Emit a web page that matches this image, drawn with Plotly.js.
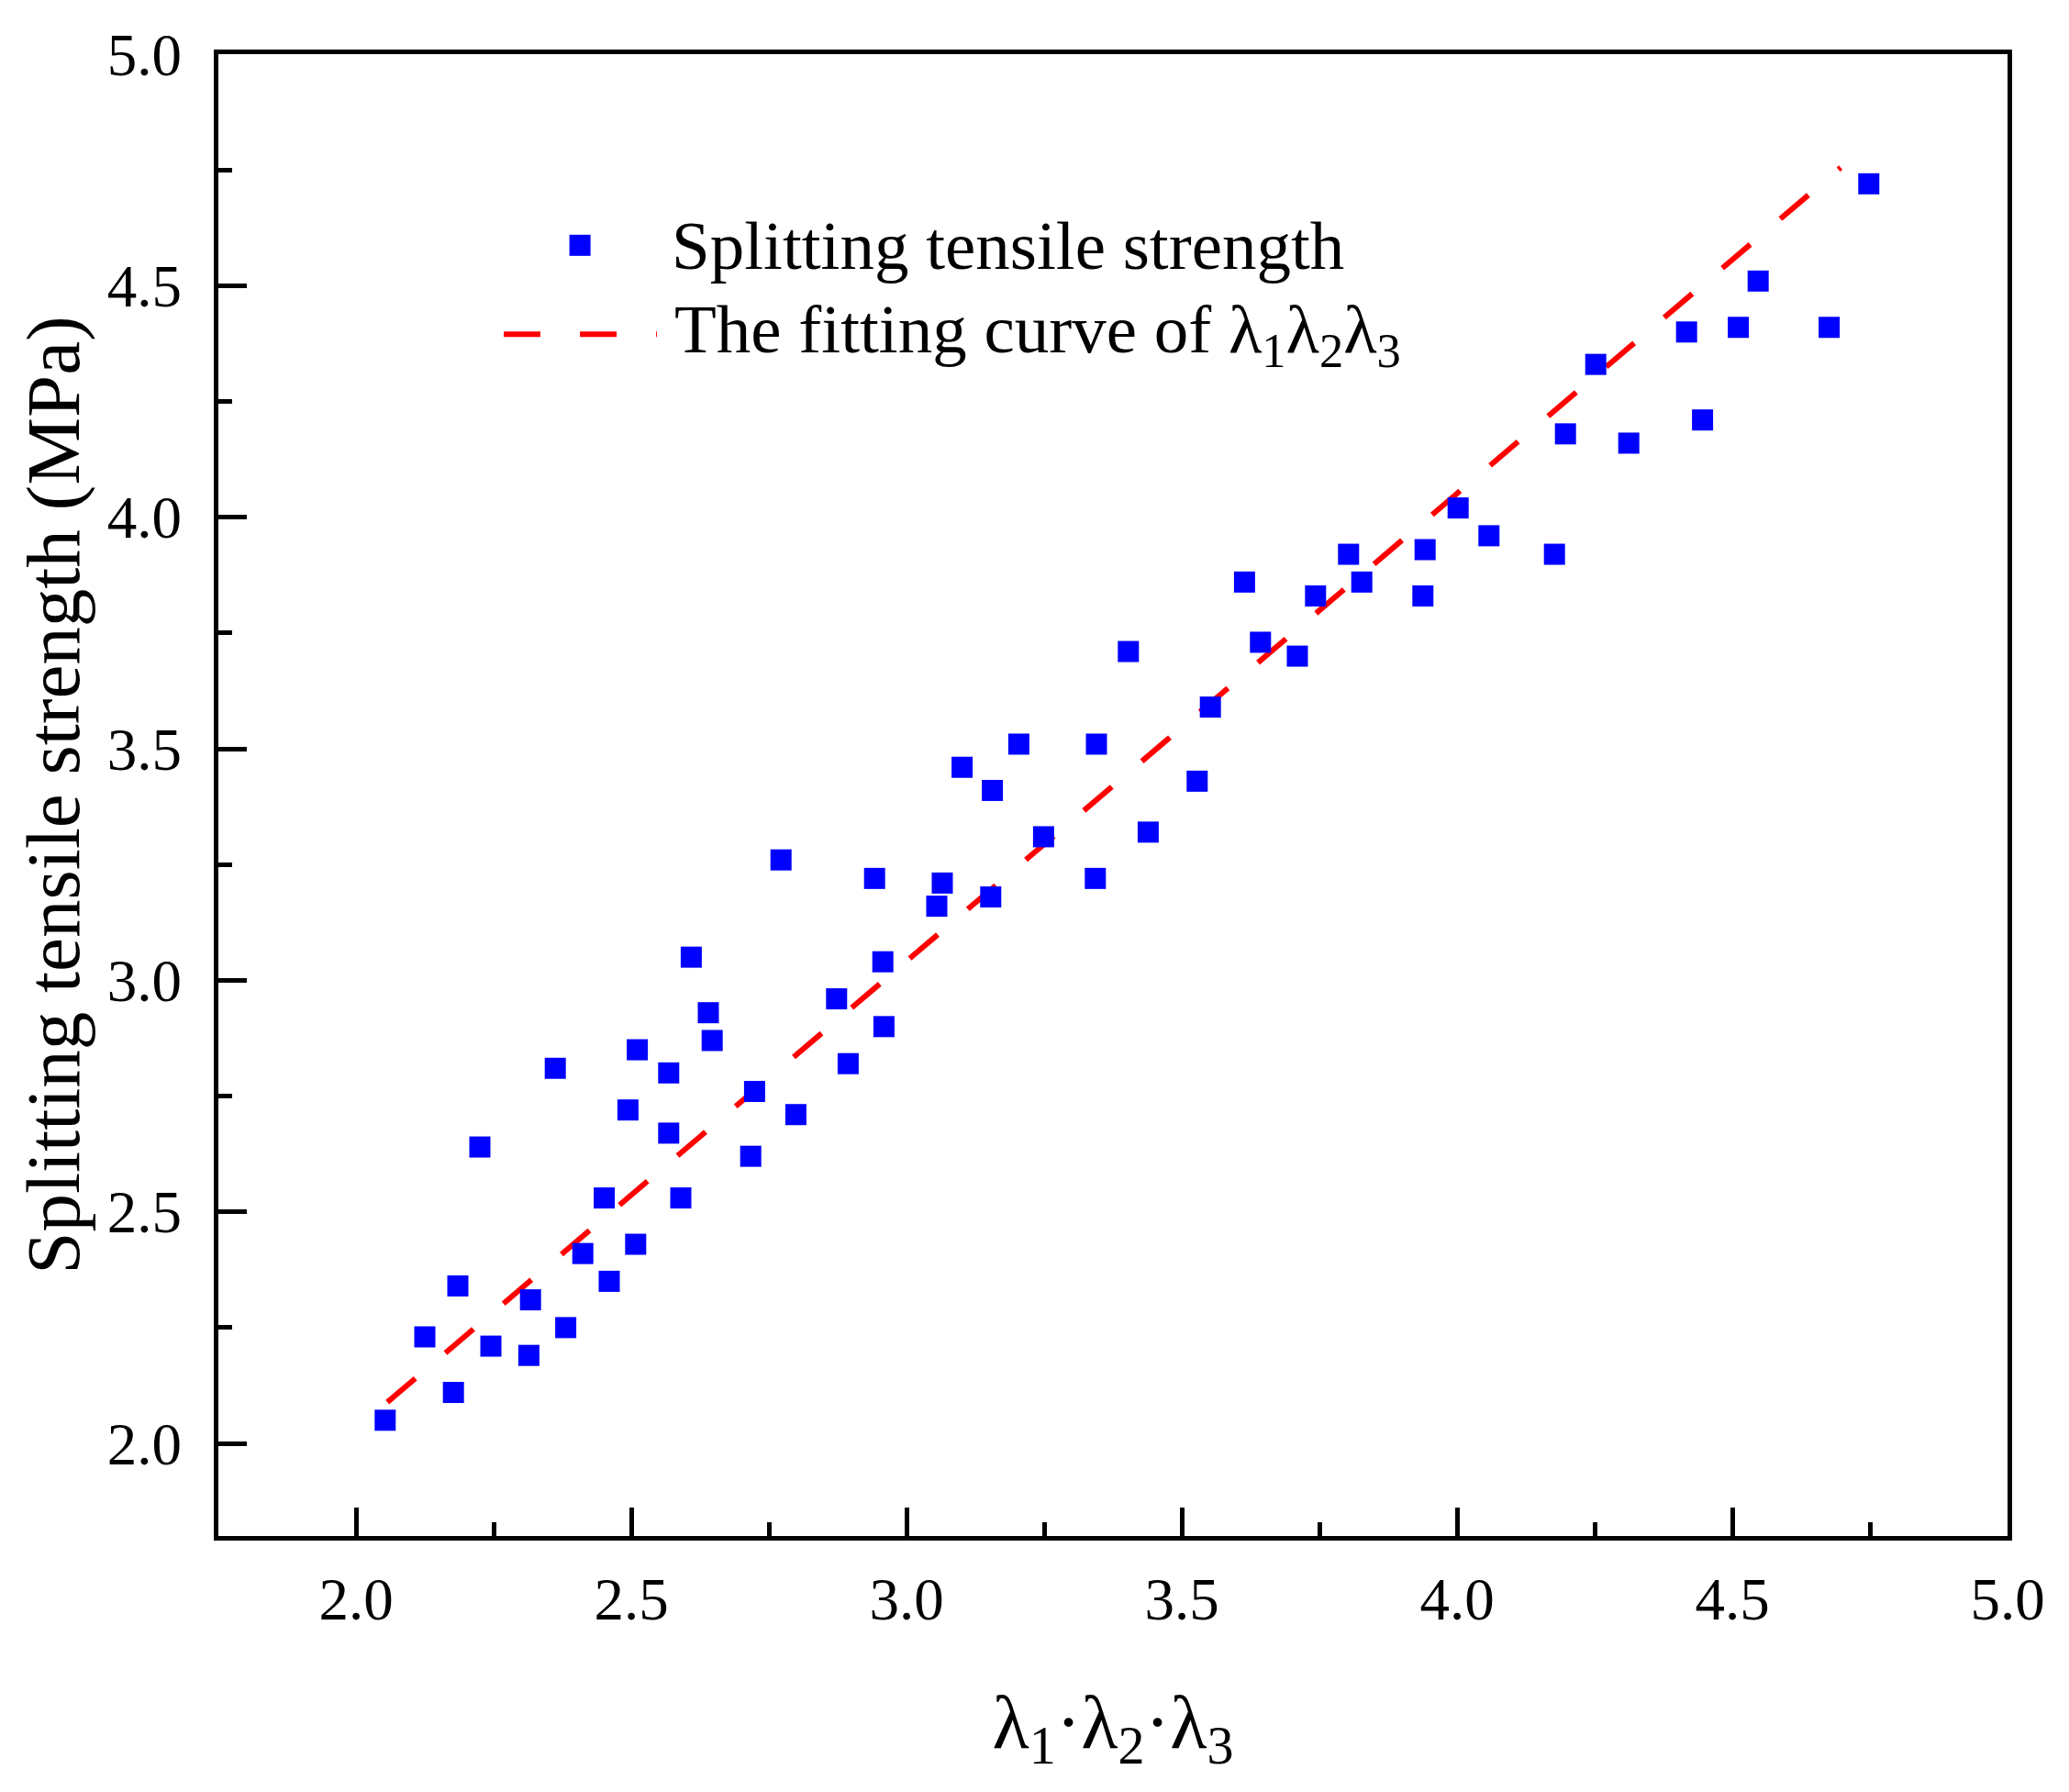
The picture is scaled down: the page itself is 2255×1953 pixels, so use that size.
<!DOCTYPE html>
<html>
<head>
<meta charset="utf-8">
<script src="https://cdn.plot.ly/plotly-3.0.1.min.js"></script>
<style>html,body{margin:0;padding:0;background:#fff;}#chart{width:2255px;height:1953px;}</style>
</head>
<body>
<div id="chart"></div>
<script>
// Measured data: lambda1*lambda2*lambda3 (x) vs splitting tensile strength in MPa (y)
const lambdaProduct = [
  2.053, 2.125, 2.177, 2.185, 2.225, 2.245, 2.314, 2.317, 2.362, 2.381,
  2.412, 2.451, 2.460, 2.494, 2.508, 2.511, 2.568, 2.568, 2.590, 2.609,
  2.640, 2.647, 2.717, 2.724, 2.772, 2.799, 2.873, 2.894, 2.942, 2.957,
  2.959, 3.055, 3.065, 3.101, 3.156, 3.153, 3.204, 3.249, 3.343, 3.345,
  3.403, 3.439, 3.528, 3.552, 3.614, 3.643, 3.710, 3.743, 3.803, 3.827,
  3.938, 3.942, 4.002, 4.058, 4.177, 4.197, 4.252, 4.312, 4.417, 4.446,
  4.511, 4.547, 4.676, 4.748
];
const tensileStrength = [
  2.05, 2.23, 2.11, 2.34, 2.64, 2.21, 2.19, 2.31, 2.81, 2.25,
  2.41, 2.53, 2.35, 2.72, 2.43, 2.85, 2.80, 2.67, 2.53, 3.05,
  2.93, 2.87, 2.62, 2.76, 3.26, 2.71, 2.96, 2.82, 3.22, 3.04,
  2.90, 3.16, 3.21, 3.46, 3.41, 3.18, 3.51, 3.31, 3.22, 3.51,
  3.71, 3.32, 3.43, 3.59, 3.86, 3.73, 3.70, 3.83, 3.92, 3.86,
  3.83, 3.93, 4.02, 3.96, 3.92, 4.18, 4.33, 4.16, 4.40, 4.21,
  4.41, 4.51, 4.41, 4.72
];
// Fitting line (end points)
const fitX = [2.057, 4.697];
const fitY = [2.089, 4.755];

const seriesNames = ['Splitting tensile strength', 'The fitting curve of λ<sub>1</sub>λ<sub>2</sub>λ<sub>3</sub>'];
const xTitle = 'λ<sub>1</sub>·λ<sub>2</sub>·λ<sub>3</sub>';
const yTitle = 'Splitting tensile strength (MPa)';

const FONT = 'Liberation Serif, Times New Roman, serif';
const BLUE = '#0000ff';
const RED = '#ff0000';
const DASH = '40px,43px';

const traces = [
  {
    x: fitX, y: fitY, type: 'scatter', mode: 'lines', name: seriesNames[1],
    line: {color: RED, width: 6, dash: DASH}, showlegend: false, hoverinfo: 'skip'
  },
  {
    x: lambdaProduct, y: tensileStrength, type: 'scatter', mode: 'markers', name: seriesNames[0],
    marker: {symbol: 'square', size: 23, color: BLUE, line: {width: 0}}, showlegend: false
  }
];

const axisCommon = {
  showgrid: false, zeroline: false, showline: true, linecolor: 'black', linewidth: 5,
  mirror: true, ticks: 'inside', ticklen: 31, tickwidth: 5, tickcolor: 'black',
  dtick: 0.5, tickformat: '.1f',
  tickfont: {family: FONT, size: 65, color: 'black'},
  minor: {ticks: 'inside', ticklen: 15, tickwidth: 5, tickcolor: 'black', dtick: 0.25, showgrid: false},
  fixedrange: true, automargin: true
};

// Legend drawn as paper-referenced shapes and annotations (to match the long line sample)
const legRow1Y = 0.871, legRow2Y = 0.811;
const layout = {
  width: 2255, height: 1953,
  margin: {l: 238, r: 67, t: 59, b: 279, pad: 0, autoexpand: false},
  paper_bgcolor: 'white', plot_bgcolor: 'white',
  showlegend: false,
  font: {family: FONT, color: 'black'},
  xaxis: Object.assign({}, axisCommon, {
    range: [1.75, 5.0], tick0: 2.0,
    ticklabelstandoff: 8,
    title: {text: xTitle, font: {family: FONT, size: 83, color: 'black'}, standoff: 70}
  }),
  yaxis: Object.assign({}, axisCommon, {
    range: [1.8, 5.0], tick0: 2.0,
    ticklabelstandoff: 22,
    title: {text: yTitle, font: {family: FONT, size: 83, color: 'black'}, standoff: 4}
  }),
  shapes: [
    {type: 'rect', xref: 'paper', yref: 'paper', xsizemode: 'pixel', ysizemode: 'pixel',
     xanchor: 0.2021, yanchor: legRow1Y, x0: -11.5, x1: 11.5, y0: -11.5, y1: 11.5,
     fillcolor: BLUE, line: {width: 0}},
    {type: 'line', xref: 'paper', yref: 'paper', x0: 0.1595, x1: 0.2451, y0: legRow2Y, y1: legRow2Y,
     line: {color: RED, width: 6, dash: DASH}}
  ],
  annotations: [
    {xref: 'paper', yref: 'paper', x: 0.2523, y: legRow1Y, xanchor: 'left', yanchor: 'middle',
     text: seriesNames[0], showarrow: false, font: {family: FONT, size: 75, color: 'black'}},
    {xref: 'paper', yref: 'paper', x: 0.2538, y: legRow2Y, xanchor: 'left', yanchor: 'middle',
     text: seriesNames[1], showarrow: false, font: {family: FONT, size: 75, color: 'black'}}
  ]
};

Plotly.newPlot('chart', traces, layout, {staticPlot: true, displayModeBar: false});
</script>
</body>
</html>
